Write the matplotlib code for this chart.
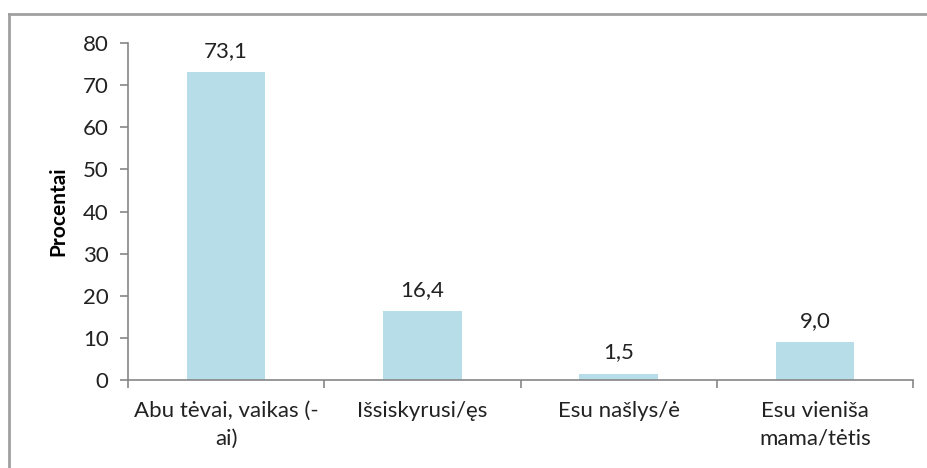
import matplotlib.pyplot as plt
import numpy as np
from matplotlib.lines import Line2D

categories = ["Abu tėvai, vaikas (-\nai)", "Išsiskyrusi/ęs", "Esu našlys/ė", "Esu vieniša\nmama/tėtis"]
values = [73.1, 16.4, 1.5, 9.0]
value_labels = ["73,1", "16,4", "1,5", "9,0"]
y_ticks = [0, 10, 20, 30, 40, 50, 60, 70, 80]

plt.rcParams['font.family'] = ['Lato', 'DejaVu Sans']
W, H = 927, 468
fig = plt.figure(figsize=(W / 100, H / 100), dpi=100)
ax = fig.add_axes([128 / W, 1 - 380 / H, (913 - 128) / W, (380 - 43) / H])

x = np.arange(len(categories))
ax.bar(x, values, width=0.40, color='#b7dde8')
for xi, v, lab in zip(x, values, value_labels):
    ax.annotate(lab, (xi, v), xytext=(0, 11), textcoords='offset points',
                ha='center', va='baseline', fontsize=16, color='#222222')

ax.set_xlim(-0.5, len(categories) - 0.5)
ax.set_ylim(0, 80)
ax.set_yticks(y_ticks)
ax.set_yticklabels([str(t) for t in y_ticks], fontsize=16, color='#222222')
ax.set_xticks(x)
ax.set_xticklabels(categories, fontsize=16, color='#222222', linespacing=1.5)
ax.set_xticks(np.arange(-0.5, len(categories)), minor=True)
ax.tick_params(axis='x', which='major', length=0, pad=15)
ax.tick_params(axis='x', which='minor', length=6, color='#868686', width=1.2)
ax.tick_params(axis='y', length=6, color='#868686', width=1.2, pad=8)

for s in ['top', 'right']:
    ax.spines[s].set_visible(False)
for s in ['left', 'bottom']:
    ax.spines[s].set_color('#868686')
    ax.spines[s].set_linewidth(1.2)

ax.set_ylabel('Procentai', fontsize=15, fontweight='bold', labelpad=10)

# outer frame
fig.add_artist(Line2D([9 / W, 9 / W], [0, 1 - 14 / H], transform=fig.transFigure,
                      color='#a0a0a0', lw=2))
fig.add_artist(Line2D([9 / W, 1], [1 - 14 / H, 1 - 14 / H], transform=fig.transFigure,
                      color='#a0a0a0', lw=2))

fig.savefig('out.png', dpi=100)
